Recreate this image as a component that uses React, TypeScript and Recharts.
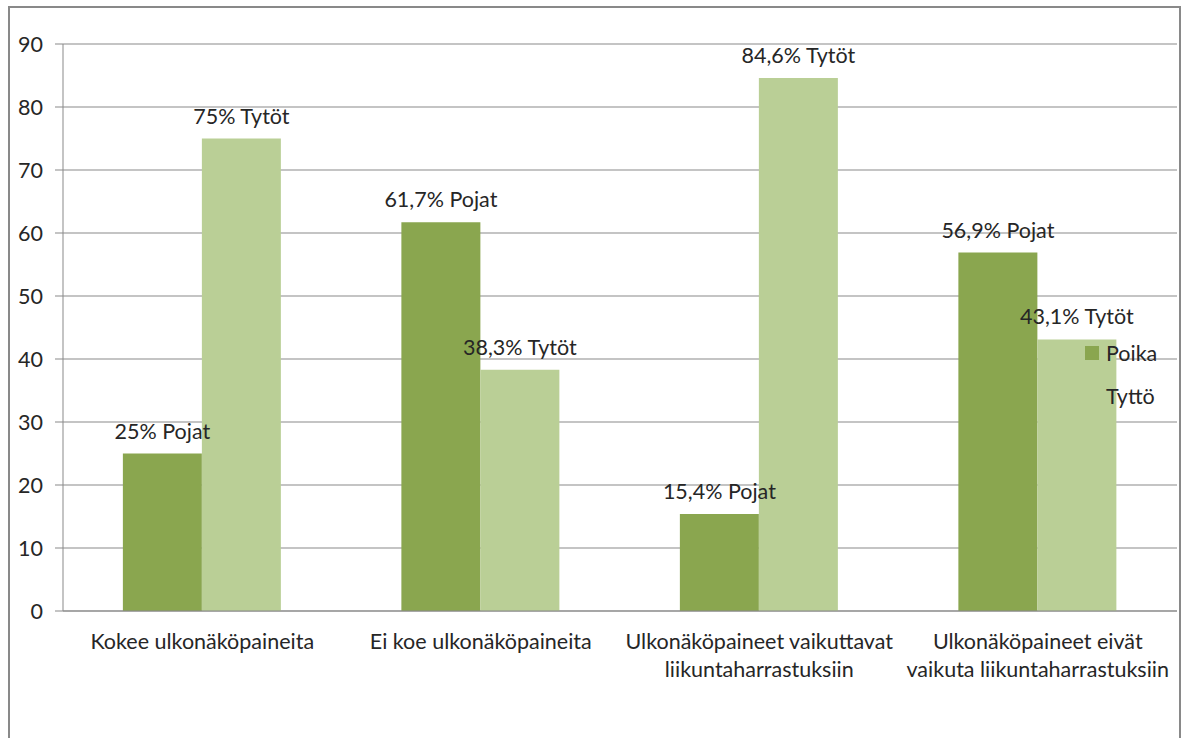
import React from 'react';
import { BarChart, Bar, XAxis, YAxis, CartesianGrid, LabelList, Legend } from 'recharts';

const categories = [
  'Kokee ulkonäköpaineita',
  'Ei koe ulkonäköpaineita',
  'Ulkonäköpaineet vaikuttavat\nliikuntaharrastuksiin',
  'Ulkonäköpaineet eivät\nvaikuta liikuntaharrastuksiin',
];
const poikaValues = [25, 61.7, 15.4, 56.9];
const tyttoValues = [75, 38.3, 84.6, 43.1];
const poikaLabels = ['25% Pojat', '61,7% Pojat', '15,4% Pojat', '56,9% Pojat'];
const tyttoLabels = ['75% Tytöt', '38,3% Tytöt', '84,6% Tytöt', '43,1% Tytöt'];
const yTicks = [0, 10, 20, 30, 40, 50, 60, 70, 80, 90];
const boundaryTicks = [0, 1, 2, 3, 4];

const data = categories.map((c, i) => ({
  category: c,
  poika: poikaValues[i],
  tytto: tyttoValues[i],
  poikaLabel: poikaLabels[i],
  tyttoLabel: tyttoLabels[i],
}));

const FONT = 'Lato';
const FS = 21.5;
const TEXT = '#262626';
const GRID = '#898989';
const DARK = '#8AA64F';
const LIGHT = '#BACF96';

const BarLabel = (props: any) => {
  const { x, y, width, value } = props;
  return (
    <text
      x={Number(x) + Number(width) / 2}
      y={Number(y) - 23}
      textAnchor="middle"
      dominantBaseline="central"
      fill={TEXT}
      fontSize={FS}
      fontFamily={FONT}
    >
      {value}
    </text>
  );
};

const CategoryTick = (props: any) => {
  const { x, y, payload } = props;
  const lines = String(payload.value).split('\n');
  return (
    <text x={x} y={y} textAnchor="middle" fill={TEXT} fontSize={FS} fontFamily={FONT} dominantBaseline="central">
      {lines.map((l, i) => (
        <tspan key={i} x={x} y={Number(y) + 30 + i * 28}>
          {l}
        </tspan>
      ))}
    </text>
  );
};

const LegendContent = (props: any) => {
  const { payload } = props;
  return (
    <div style={{ fontFamily: FONT, fontSize: FS, color: TEXT }}>
      {(payload || []).map((p: any, i: number) => (
        <div key={i} style={{ display: 'flex', alignItems: 'center', height: 43 }}>
          <span style={{ width: 14, height: 14, background: p.color, marginRight: 7, display: 'inline-block' }} />
          <span>{p.value}</span>
        </div>
      ))}
    </div>
  );
};

export default function App() {
  return (
    <div
      style={{
        position: 'absolute',
        left: 8,
        top: 6,
        width: 1169,
        height: 730,
        borderTop: `2px solid ${GRID}`,
        borderLeft: `2px solid ${GRID}`,
        borderRight: `2px solid ${GRID}`,
        background: '#fff',
      }}
    >
      <BarChart
        width={1169}
        height={730}
        data={data}
        margin={{ top: 36, right: 2, bottom: 0, left: 0 }}
        barCategoryGap="21.5%"
        barGap={0}
      >
        <CartesianGrid vertical={false} stroke={GRID} strokeWidth={1} />
        <XAxis
          xAxisId={0}
          type="number"
          domain={[0, 4]}
          ticks={boundaryTicks}
          allowDataOverflow
          height={0}
          tick={false}
          axisLine={false}
          tickSize={6}
          tickLine={{ stroke: GRID }}
        />
        <XAxis
          xAxisId={1}
          dataKey="category"
          height={127}
          tickLine={false}
          tickSize={0}
          tickMargin={0}
          interval={0}
          axisLine={{ stroke: GRID }}
          tick={<CategoryTick />}
        />
        <YAxis
          width={53}
          domain={[0, 90]}
          ticks={yTicks}
          interval={0}
          tickSize={8}
          tickMargin={12}
          axisLine={{ stroke: GRID }}
          tickLine={{ stroke: GRID }}
          tick={{ fill: TEXT, fontSize: FS, fontFamily: FONT }}
        />
        <Legend
          layout="vertical"
          align="center"
          verticalAlign="middle"
          content={<LegendContent />}
          wrapperStyle={{ left: 1075, top: 323.5, width: 100, height: 86 }}
        />
        <Bar xAxisId={1} dataKey="poika" name="Poika" fill={DARK} isAnimationActive={false}>
          <LabelList dataKey="poikaLabel" content={<BarLabel />} />
        </Bar>
        <Bar xAxisId={1} dataKey="tytto" name="Tyttö" fill={LIGHT} isAnimationActive={false}>
          <LabelList dataKey="tyttoLabel" content={<BarLabel />} />
        </Bar>
      </BarChart>
    </div>
  );
}
